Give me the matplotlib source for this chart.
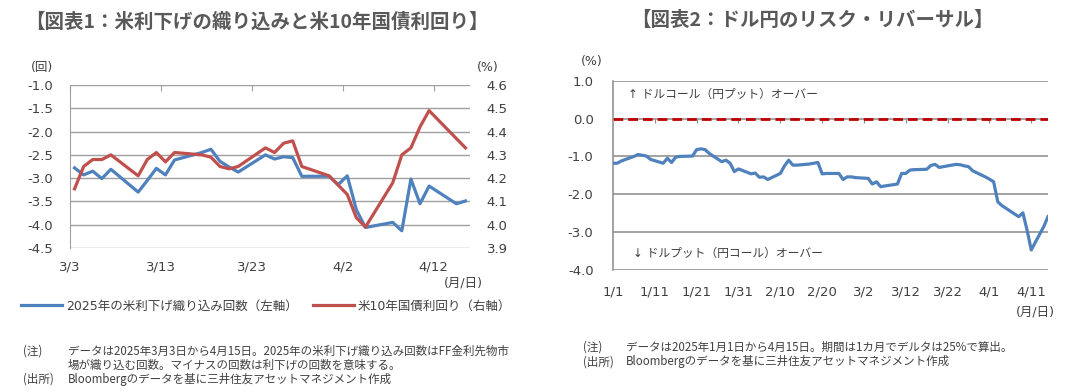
import numpy as np
import pandas as pd
import matplotlib
matplotlib.use("Agg")
import matplotlib.pyplot as plt

plt.rcParams['font.family'] = ['DejaVu Sans', 'Noto Sans CJK JP']

# ---- chart 1 data: rate cut pricing vs US 10y yield ----
c1_dates = ["2025-03-03", "2025-03-04", "2025-03-05", "2025-03-06", "2025-03-07",
            "2025-03-10", "2025-03-11", "2025-03-12", "2025-03-13", "2025-03-14",
            "2025-03-17", "2025-03-18", "2025-03-19", "2025-03-20", "2025-03-21",
            "2025-03-24", "2025-03-25", "2025-03-26", "2025-03-27", "2025-03-28",
            "2025-03-31", "2025-04-01", "2025-04-02", "2025-04-03", "2025-04-04",
            "2025-04-07", "2025-04-08", "2025-04-09", "2025-04-10", "2025-04-11",
            "2025-04-14", "2025-04-15"]
cuts = [-2.78, -2.93, -2.85, -3.01, -2.81,
        -3.30, -3.05, -2.79, -2.93, -2.61,
        -2.45, -2.38, -2.64, -2.76, -2.87,
        -2.50, -2.59, -2.54, -2.56, -2.96,
        -2.96, -3.14, -2.95, -3.68, -4.06,
        -3.95, -4.13, -3.02, -3.55, -3.17,
        -3.55, -3.49]
yield10 = [4.154, 4.25, 4.28, 4.28, 4.30,
           4.21, 4.28, 4.31, 4.27, 4.31,
           4.30, 4.29, 4.25, 4.24, 4.25,
           4.33, 4.31, 4.35, 4.36, 4.25,
           4.21, 4.17, 4.13, 4.03, 3.99,
           4.18, 4.30, 4.33, 4.42, 4.49,
           4.37, 4.33]
c1_label_blue = "2025年の米利下げ織り込み回数（左軸）"
c1_label_red = "米10年国債利回り（右軸）"

# ---- chart 2 data: USD/JPY risk reversal ----
rr_dates = ["2025-01-01", "2025-01-02", "2025-01-03", "2025-01-06", "2025-01-07",
            "2025-01-08", "2025-01-09", "2025-01-10", "2025-01-13", "2025-01-14",
            "2025-01-15", "2025-01-16", "2025-01-17", "2025-01-20", "2025-01-21",
            "2025-01-22", "2025-01-23", "2025-01-24", "2025-01-27", "2025-01-28",
            "2025-01-29", "2025-01-30", "2025-01-31", "2025-02-03", "2025-02-04",
            "2025-02-05", "2025-02-06", "2025-02-07", "2025-02-10", "2025-02-11",
            "2025-02-12", "2025-02-13", "2025-02-14", "2025-02-17", "2025-02-18",
            "2025-02-19", "2025-02-20", "2025-02-21", "2025-02-24", "2025-02-25",
            "2025-02-26", "2025-02-27", "2025-02-28", "2025-03-03", "2025-03-04",
            "2025-03-05", "2025-03-06", "2025-03-07", "2025-03-10", "2025-03-11",
            "2025-03-12", "2025-03-13", "2025-03-14", "2025-03-17", "2025-03-18",
            "2025-03-19", "2025-03-20", "2025-03-21", "2025-03-24", "2025-03-25",
            "2025-03-26", "2025-03-27", "2025-03-28", "2025-03-31", "2025-04-01",
            "2025-04-02", "2025-04-03", "2025-04-04", "2025-04-07", "2025-04-08",
            "2025-04-09", "2025-04-10", "2025-04-11", "2025-04-14", "2025-04-15"]
rr = [-1.18, -1.18, -1.12, -1.00, -0.95,
      -0.97, -0.99, -1.08, -1.18, -1.05,
      -1.16, -1.02, -1.00, -0.99, -0.82,
      -0.80, -0.82, -0.92, -1.14, -1.10,
      -1.18, -1.40, -1.33, -1.46, -1.44,
      -1.55, -1.54, -1.61, -1.45, -1.25,
      -1.10, -1.23, -1.23, -1.20, -1.18,
      -1.16, -1.46, -1.45, -1.45, -1.61,
      -1.54, -1.54, -1.56, -1.58, -1.73,
      -1.67, -1.80, -1.78, -1.73, -1.45,
      -1.45, -1.36, -1.35, -1.34, -1.24,
      -1.21, -1.29, -1.27, -1.21, -1.22,
      -1.25, -1.27, -1.38, -1.54, -1.60,
      -1.67, -2.20, -2.30, -2.52, -2.59,
      -2.49, -2.95, -3.47, -2.85, -2.59]

BLUE = "#4F81BD"
RED = "#C0504D"
TXT = "#404040"

fig = plt.figure(figsize=(10.87, 3.91), dpi=100)

# ================= chart 1 =================
ax1 = fig.add_axes([70 / 1087, 1 - 248 / 391, 400 / 1087, 163 / 391])
ax1r = ax1.twinx()

d1 = pd.to_datetime(c1_dates)
start1 = d1[0]
x1 = (d1 - start1).days.to_numpy() + 0.5

ax1.plot(x1, cuts, color=BLUE, lw=2.3, label=c1_label_blue, zorder=3)
ax1r.plot(x1, yield10, color=RED, lw=2.3, label=c1_label_red, zorder=3)

ax1.set_xlim(0, 44)
ax1.set_ylim(-4.5, -1.0)
ax1r.set_ylim(3.9, 4.6)
ax1.set_yticks(np.arange(-4.5, -0.99, 0.5))
ax1r.set_yticks(np.arange(3.9, 4.61, 0.1))
ax1.yaxis.set_major_formatter(plt.FormatStrFormatter("%.1f"))
ax1r.yaxis.set_major_formatter(plt.FormatStrFormatter("%.1f"))
tk1 = np.arange(0, 44, 10)
ax1.set_xticks(tk1)
ax1.set_xticklabels([f"{(start1 + pd.Timedelta(days=int(t))).month}/{(start1 + pd.Timedelta(days=int(t))).day}" for t in tk1])
ax1.grid(axis="y", color="#A0A0A0", lw=1.0)
ax1.set_axisbelow(True)
for a in (ax1, ax1r):
    for s in ("top", "right", "bottom"):
        a.spines[s].set_visible(False)
ax1r.spines["left"].set_visible(False)
ax1.spines["left"].set_color("#A0A0A0")
ax1.tick_params(axis="x", bottom=False, top=True, direction="in", length=4,
                color="#A0A0A0", labelsize=9.5, labelcolor=TXT, pad=9)
ax1.tick_params(axis="y", length=0, labelsize=9.5, labelcolor=TXT, pad=12)
ax1r.tick_params(axis="y", length=0, labelsize=9.5, labelcolor=TXT, pad=12)

fig.text(42 / 1087, 1 - 67 / 391, "(回)", ha="center", va="center", fontsize=9, color=TXT)
fig.text(488 / 1087, 1 - 67 / 391, "(%)", ha="center", va="center", fontsize=9, color=TXT)
fig.text(463 / 1087, 1 - 283 / 391, "(月/日)", ha="center", va="center", fontsize=9, color=TXT)

h1, l1 = ax1.get_legend_handles_labels()
h2, l2 = ax1r.get_legend_handles_labels()
fig.legend(h1 + h2, l1 + l2, loc="center", bbox_to_anchor=(266 / 1087, 1 - 306 / 391),
           ncol=2, frameon=False, fontsize=9, handlelength=3.3, columnspacing=1.2,
           handletextpad=0.3, labelcolor=TXT)

fig.text(257 / 1087, 1 - 22 / 391, "【図表1：米利下げの織り込みと米10年国債利回り】",
         ha="center", va="center", fontsize=14, fontweight="bold", color="#595959",
         family=["Noto Sans CJK JP", "DejaVu Sans"])

# ================= chart 2 =================
ax2 = fig.add_axes([613 / 1087, 1 - 270 / 391, 435 / 1087, 189.3 / 391])
d2 = pd.to_datetime(rr_dates)
start2 = d2[0]
x2 = (d2 - start2).days.to_numpy()

ax2.axhline(0, color="#C00000", lw=2.0, ls=(0, (3.5, 1.8)), zorder=2)
ax2.plot(x2, rr, color=BLUE, lw=2.3, zorder=3)
ax2.set_xlim(0, 104)
ax2.set_ylim(-4.0, 1.0)
ax2.set_yticks(np.arange(-4.0, 1.01, 1.0))
ax2.yaxis.set_major_formatter(plt.FormatStrFormatter("%.1f"))
tk2 = np.arange(0, 104, 10)
ax2.set_xticks(tk2)
ax2.set_xticklabels([f"{(start2 + pd.Timedelta(days=int(t))).month}/{(start2 + pd.Timedelta(days=int(t))).day}" for t in tk2])
ax2.grid(axis="y", color="#8A8A8A", lw=1.1)
ax2.set_axisbelow(True)
for s in ("top", "right", "bottom"):
    ax2.spines[s].set_visible(False)
ax2.spines["left"].set_color("#8A8A8A")
ax2.spines["left"].set_linewidth(1.1)
ax2.tick_params(axis="x", length=0, labelsize=9.5, labelcolor=TXT, pad=11)
ax2.tick_params(axis="y", length=0, labelsize=9.5, labelcolor=TXT, pad=14)

# small category ticks sitting on the zero line
sec = ax2.secondary_xaxis(0.8)
sec.set_xticks(tk2[1:])
sec.tick_params(direction="in", length=3, color="#8A8A8A", labelbottom=False, labeltop=False)
sec.set_xticklabels([])
sec.spines["bottom"].set_visible(False)
sec.spines["top"].set_visible(False)

ax2.text(0.034, 0.93, "↑ ドルコール（円プット）オーバー", transform=ax2.transAxes,
         ha="left", va="center", fontsize=8.5, color=TXT)
ax2.text(0.046, 0.09, "↓ ドルプット（円コール）オーバー", transform=ax2.transAxes,
         ha="left", va="center", fontsize=8.5, color=TXT)

fig.text(592 / 1087, 1 - 62 / 391, "(%)", ha="center", va="center", fontsize=9, color=TXT)
fig.text(1035 / 1087, 1 - 312 / 391, "(月/日)", ha="center", va="center", fontsize=9, color=TXT)

fig.text(812 / 1087, 1 - 20 / 391, "【図表2：ドル円のリスク・リバーサル】",
         ha="center", va="center", fontsize=14, fontweight="bold", color="#595959",
         family=["Noto Sans CJK JP", "DejaVu Sans"])

# ================= notes =================
NOTE_FAM = ["Noto Sans CJK JP", "DejaVu Sans"]
fig.text(23 / 1087, 1 - 351 / 391, "(注)", ha="left", va="center", fontsize=8.3, color=TXT, family=NOTE_FAM)
fig.text(68 / 1087, 1 - 351 / 391, "データは2025年3月3日から4月15日。2025年の米利下げ織り込み回数はFF金利先物市",
         ha="left", va="center", fontsize=8.3, color=TXT, family=NOTE_FAM)
fig.text(68 / 1087, 1 - 365 / 391, "場が織り込む回数。マイナスの回数は利下げの回数を意味する。",
         ha="left", va="center", fontsize=8.3, color=TXT, family=NOTE_FAM)
fig.text(23 / 1087, 1 - 379 / 391, "(出所)", ha="left", va="center", fontsize=8.3, color=TXT, family=NOTE_FAM)
fig.text(68 / 1087, 1 - 379 / 391, "Bloombergのデータを基に三井住友アセットマネジメント作成",
         ha="left", va="center", fontsize=8.3, color=TXT, family=NOTE_FAM)

fig.text(583 / 1087, 1 - 347 / 391, "(注)", ha="left", va="center", fontsize=8.3, color=TXT, family=NOTE_FAM)
fig.text(626 / 1087, 1 - 347 / 391, "データは2025年1月1日から4月15日。期間は1カ月でデルタは25%で算出。",
         ha="left", va="center", fontsize=8.3, color=TXT, family=NOTE_FAM)
fig.text(583 / 1087, 1 - 362 / 391, "(出所)", ha="left", va="center", fontsize=8.3, color=TXT, family=NOTE_FAM)
fig.text(626 / 1087, 1 - 362 / 391, "Bloombergのデータを基に三井住友アセットマネジメント作成",
         ha="left", va="center", fontsize=8.3, color=TXT, family=NOTE_FAM)

fig.savefig("out.png", dpi=100)
